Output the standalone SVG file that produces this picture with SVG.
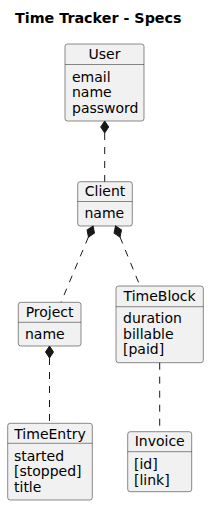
<svg xmlns="http://www.w3.org/2000/svg" width="208" height="506" viewBox="0 0 208 506">
<style>
.box{fill:#F1F1F1;stroke:#181818;stroke-width:0.5}
.sep{stroke:#181818;stroke-width:0.5}
.t{font-family:"DejaVu Sans",sans-serif;font-size:14px;fill:#000}
.h{text-anchor:middle}
.title{font-family:"DejaVu Sans",sans-serif;font-size:14.3px;font-weight:bold;fill:#000}
.edge{stroke:#181818;stroke-width:1;fill:none;stroke-dasharray:7,7}
.dia{fill:#181818;stroke:#181818;stroke-width:1}
</style>
<rect width="208" height="506" fill="#FFFFFF"/>
<text class="title" x="15" y="23">Time Tracker - Specs</text>
<g id="User">
<rect class="box" x="65" y="44" width="79" height="77" rx="2.5"/>
<line class="sep" x1="65" y1="64.5" x2="144" y2="64.5"/>
<text class="t h" x="104.5" y="59">User</text>
<text class="t" x="72" y="82">email</text>
<text class="t" x="72" y="97">name</text>
<text class="t" x="72" y="113">password</text>
</g>
<g id="Client">
<rect class="box" x="77.7" y="181.7" width="54.6" height="44.3" rx="2.5"/>
<line class="sep" x1="77.7" y1="201.5" x2="132.3" y2="201.5"/>
<text class="t h" x="105" y="196">Client</text>
<text class="t" x="84.5" y="218">name</text>
</g>
<g id="Project">
<rect class="box" x="18.3" y="302.3" width="62.7" height="43.7" rx="2.5"/>
<line class="sep" x1="18.3" y1="322.3" x2="81" y2="322.3"/>
<text class="t h" x="49.6" y="317">Project</text>
<text class="t" x="25" y="339">name</text>
</g>
<g id="TimeBlock">
<rect class="box" x="116" y="286" width="87.3" height="76.7" rx="2.5"/>
<line class="sep" x1="116" y1="306.7" x2="203.3" y2="306.7"/>
<text class="t h" x="159.6" y="301">TimeBlock</text>
<text class="t" x="123" y="323">duration</text>
<text class="t" x="123" y="338.5">billable</text>
<text class="t" x="123" y="354">[paid]</text>
</g>
<g id="TimeEntry">
<rect class="box" x="7.7" y="423.3" width="84.6" height="76.7" rx="2.5"/>
<line class="sep" x1="7.7" y1="443.3" x2="92.3" y2="443.3"/>
<text class="t h" x="50" y="438.5">TimeEntry</text>
<text class="t" x="14" y="460.5">started</text>
<text class="t" x="14" y="476">[stopped]</text>
<text class="t" x="14" y="491.5">title</text>
</g>
<g id="Invoice">
<rect class="box" x="127.7" y="431.7" width="64" height="60" rx="2.5"/>
<line class="sep" x1="127.7" y1="451.7" x2="191.7" y2="451.7"/>
<text class="t h" x="159.7" y="446">Invoice</text>
<text class="t" x="134" y="469">[id]</text>
<text class="t" x="134" y="484.5">[link]</text>
</g>
<g id="connectors">
<line class="edge" x1="104.7" y1="133" x2="104.7" y2="181.7"/>
<polygon class="dia" points="104.7,121 108.7,127 104.7,133 100.7,127"/>
<line class="edge" x1="88.4" y1="237" x2="61" y2="302.3"/>
<polygon class="dia" transform="translate(93.1,226) rotate(22.8)" points="0,0 4,6 0,12 -4,6"/>
<line class="edge" x1="120" y1="237" x2="140" y2="286"/>
<polygon class="dia" transform="translate(115.5,226) rotate(-22.2)" points="0,0 4,6 0,12 -4,6"/>
<line class="edge" x1="49.5" y1="358" x2="49.5" y2="423.3"/>
<polygon class="dia" points="49.5,346 53.5,352 49.5,358 45.5,352"/>
<line class="edge" x1="159.7" y1="362.7" x2="159.7" y2="431.7"/>
</g>
</svg>
